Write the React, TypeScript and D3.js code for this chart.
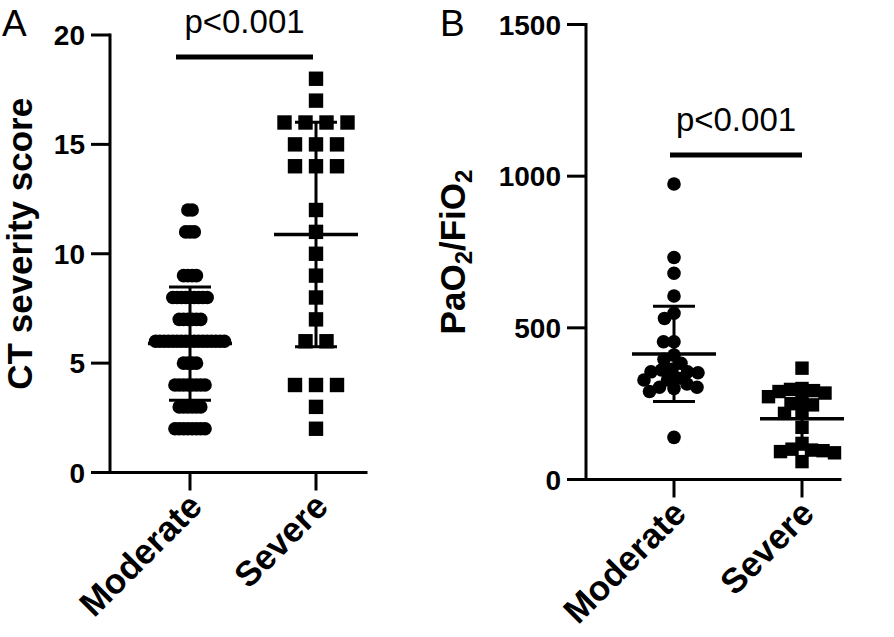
import React, { useEffect, useRef } from 'react';
import * as d3 from 'd3';

// groups on the x axis
const groups = ['Moderate', 'Severe'];

// Panel A - CT severity score (integer scores, how many patients per score)
const ctModerateScores = [12, 11, 9, 8, 7, 6, 5, 4, 3, 2];
const ctModerateCounts = [2, 3, 4, 9, 6, 17, 4, 8, 6, 8];
const ctSevereScores = [18, 17, 16, 15, 14, 12, 11, 10, 9, 8, 7, 6, 4, 3, 2];
const ctSevereCounts = [1, 1, 4, 3, 3, 1, 1, 1, 1, 1, 1, 2, 3, 1, 1];
const ctTicks = [0, 5, 10, 15, 20];

// Panel B - PaO2/FiO2
const pfModerate = [974, 732, 680, 605, 548, 531, 454, 454, 410, 396, 383, 363, 361, 355, 352, 355,
  334, 328, 328, 315, 304, 304, 300, 290, 139];
const pfSevere = [367, 300, 297, 293, 290, 285, 273, 262, 250, 246, 224, 218, 172, 119, 100, 97,
  95, 92, 88, 59];
const pfTicks = [0, 500, 1000, 1500];
// mean / SD as drawn in the figure
const pfMean = [414, 200];
const pfSd = [157, 100];

const pText = 'p<0.001';

const FONT = "'Liberation Sans', Arial, Helvetica, sans-serif";

const expand = (scores: number[], counts: number[]) =>
  scores.flatMap((s, i) => d3.range(counts[i]).map(() => s));

// simple beeswarm, lets marks overlap a bit (dist < mark size)
function swarm(ys: number[], dist: number): number[] {
  const order = d3.range(ys.length).sort((a, b) => ys[a] - ys[b]);
  const placed: { x: number; y: number }[] = [];
  const out = new Array(ys.length).fill(0);
  for (const i of order) {
    let best = 0;
    for (let k = 0; k < 400; k++) {
      const c = (k % 2 === 0 ? 1 : -1) * Math.ceil(k / 2) * 0.5;
      if (placed.every(p => Math.hypot(p.x - c, p.y - ys[i]) >= dist)) { best = c; break; }
    }
    placed.push({ x: best, y: ys[i] });
    out[i] = best;
  }
  return out;
}

const App: React.FC = () => {
  const ref = useRef<SVGSVGElement>(null);

  useEffect(() => {
    if (!ref.current) return;
    const svg = d3.select(ref.current);
    svg.selectAll('*').remove();

    const drawAxes = (
      axisX: number, xEnd: number,
      y: d3.ScaleLinear<number, number>, ticks: number[],
      x: d3.ScalePoint<string>
    ) => {
      const [y0, y1] = y.range();
      const g = svg.append('g');
      g.append('line').attr('x1', axisX).attr('x2', axisX).attr('y1', y1).attr('y2', y0)
        .attr('stroke', '#000').attr('stroke-width', 3).attr('stroke-linecap', 'square');
      g.append('line').attr('x1', axisX).attr('x2', xEnd).attr('y1', y0).attr('y2', y0)
        .attr('stroke', '#000').attr('stroke-width', 3).attr('stroke-linecap', 'square');
      ticks.forEach(t => {
        g.append('line').attr('x1', axisX - 19).attr('x2', axisX).attr('y1', y(t)).attr('y2', y(t))
          .attr('stroke', '#000').attr('stroke-width', 3);
        g.append('text').attr('x', axisX - 25).attr('y', y(t)).attr('dy', '0.36em')
          .attr('text-anchor', 'end').style('font-family', FONT).style('font-weight', 'bold')
          .style('font-size', '28px').text(String(t));
      });
      groups.forEach(gr => {
        const gx = x(gr) as number;
        g.append('line').attr('x1', gx).attr('x2', gx).attr('y1', y0).attr('y2', y0 + 18)
          .attr('stroke', '#000').attr('stroke-width', 3);
        g.append('text')
          .attr('transform', `translate(${gx + 14},${y0 + 36}) rotate(-45)`)
          .attr('text-anchor', 'end').style('font-family', FONT).style('font-weight', 'bold')
          .style('font-size', '35px').text(gr);
      });
    };

    const drawErrorBar = (cx: number, y: d3.ScaleLinear<number, number>, m: number, sd: number) => {
      const g = svg.append('g').attr('stroke', '#000').attr('stroke-width', 3);
      g.append('line').attr('x1', cx).attr('x2', cx).attr('y1', y(m - sd)).attr('y2', y(m + sd));
      g.append('line').attr('x1', cx - 21).attr('x2', cx + 21).attr('y1', y(m + sd)).attr('y2', y(m + sd));
      g.append('line').attr('x1', cx - 21).attr('x2', cx + 21).attr('y1', y(m - sd)).attr('y2', y(m - sd));
      g.append('line').attr('x1', cx - 42).attr('x2', cx + 42).attr('y1', y(m)).attr('y2', y(m))
        .attr('stroke-width', 3.5);
    };

    const drawP = (xa: number, xb: number, yBar: number) => {
      svg.append('line').attr('x1', xa).attr('x2', xb).attr('y1', yBar).attr('y2', yBar)
        .attr('stroke', '#000').attr('stroke-width', 5);
      svg.append('text').attr('x', (xa + xb) / 2).attr('y', yBar - 24)
        .attr('text-anchor', 'middle').style('font-family', FONT).style('font-size', '33px')
        .text(pText);
    };

    // ---------- Panel A ----------
    const yA = d3.scaleLinear().domain([0, 20]).range([472.5, 35]);
    const xA = d3.scalePoint<string>().domain(groups).range([190, 316]);
    drawAxes(110, 366, yA, ctTicks, xA);

    const modA = expand(ctModerateScores, ctModerateCounts);
    const sevA = expand(ctSevereScores, ctSevereCounts);

    ctModerateScores.forEach((s, i) => {
      const k = ctModerateCounts[i];
      d3.range(k).forEach(j => {
        svg.append('circle')
          .attr('cx', (xA('Moderate') as number) + (j - (k - 1) / 2) * 4.3)
          .attr('cy', yA(s)).attr('r', 6.8).attr('fill', '#000');
      });
    });
    ctSevereScores.forEach((s, i) => {
      const k = ctSevereCounts[i];
      d3.range(k).forEach(j => {
        const cx = (xA('Severe') as number) + (j - (k - 1) / 2) * 21;
        svg.append('rect').attr('x', cx - 7.2).attr('y', yA(s) - 7.2)
          .attr('width', 14.4).attr('height', 14.4).attr('fill', '#000');
      });
    });
    drawErrorBar(xA('Moderate') as number, yA, d3.mean(modA) as number, d3.deviation(modA) as number);
    drawErrorBar(xA('Severe') as number, yA, d3.mean(sevA) as number, d3.deviation(sevA) as number);
    drawP((xA('Moderate') as number) - 14, (xA('Severe') as number) - 3, yA(19));

    // y title A
    svg.append('text')
      .attr('transform', `translate(32,${(yA(0) + yA(20)) / 2 - 10}) rotate(-90)`)
      .attr('text-anchor', 'middle').style('font-family', FONT).style('font-weight', 'bold')
      .style('font-size', '35px').text('CT severity score');
    svg.append('text').attr('x', 2).attr('y', 36).style('font-family', FONT)
      .style('font-size', '37px').text('A');

    // ---------- Panel B ----------
    const yB = d3.scaleLinear().domain([0, 1500]).range([479.5, 24.5]);
    const xB = d3.scalePoint<string>().domain(groups).range([674, 802]);
    drawAxes(586, 840, yB, pfTicks, xB);

    const offM = swarm(pfModerate.map(v => yB(v)), 10.5);
    pfModerate.forEach((v, i) => {
      svg.append('circle').attr('cx', (xB('Moderate') as number) + offM[i]).attr('cy', yB(v))
        .attr('r', 6.8).attr('fill', '#000');
    });
    const offS = swarm(pfSevere.map(v => yB(v)), 11.5);
    pfSevere.forEach((v, i) => {
      const cx = (xB('Severe') as number) + offS[i];
      svg.append('rect').attr('x', cx - 6.7).attr('y', yB(v) - 6.7)
        .attr('width', 13.4).attr('height', 13.4).attr('fill', '#000');
    });
    groups.forEach((gr, i) => drawErrorBar(xB(gr) as number, yB, pfMean[i], pfSd[i]));
    drawP((xB('Moderate') as number) - 4, xB('Severe') as number, yB(1070));

    const tB = svg.append('text')
      .attr('transform', `translate(465,${(yB(0) + yB(1500)) / 2}) rotate(-90)`)
      .attr('text-anchor', 'middle').style('font-family', FONT).style('font-weight', 'bold')
      .style('font-size', '35px');
    tB.append('tspan').text('PaO');
    tB.append('tspan').attr('dy', 7).style('font-size', '24px').text('2');
    tB.append('tspan').attr('dy', -7).text('/FiO');
    tB.append('tspan').attr('dy', 7).style('font-size', '24px').text('2');
    svg.append('text').attr('x', 440).attr('y', 36).style('font-family', FONT)
      .style('font-size', '37px').text('B');
  }, []);

  return (
    <svg ref={ref} width={894} height={637}
      style={{ position: 'absolute', left: 0, top: 0, background: '#fff' }} />
  );
};

export default App;
